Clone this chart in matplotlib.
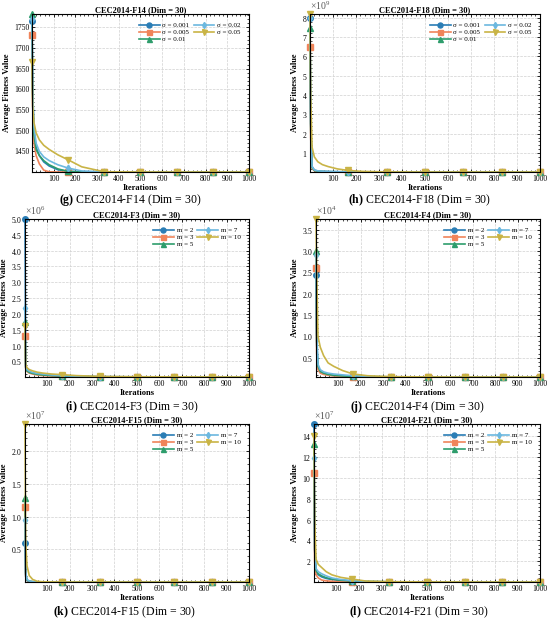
import numpy as np
import matplotlib
matplotlib.use("Agg")
import matplotlib.pyplot as plt
from matplotlib.ticker import ScalarFormatter, AutoMinorLocator, MultipleLocator

plt.rcParams['font.family'] = ['Liberation Serif', 'DejaVu Serif']
plt.rcParams['mathtext.fontset'] = 'custom'
plt.rcParams['mathtext.rm'] = 'Liberation Serif'
plt.rcParams['mathtext.bf'] = 'Liberation Serif:bold'

# iteration points (markers sit at 1, 167, 334, 500, 667, 834, 1000)
iters = [1, 4, 10, 20, 35, 55, 80, 120, 167, 230, 334, 500, 667, 834, 1000]
mark_iters = [1, 167, 334, 500, 667, 834, 1000]

colors = ['#2a7db5', '#f0845a', '#2e9d6c', '#6cb8df', '#c9b446']
markers = ['o', 's', '^', 'd', 'v']

sigma_labels = ['σ = 0.001', 'σ = 0.005', 'σ = 0.01', 'σ = 0.02', 'σ = 0.05']
m_labels = ['m = 2', 'm = 3', 'm = 5', 'm = 7', 'm = 10']

# (g) CEC2014-F14
f14_a = [1765, 1600, 1500, 1460, 1440, 1425, 1415, 1406, 1402, 1400.8, 1400.5, 1400.5, 1400.5, 1400.5, 1400.5]
f14_b = [1732, 1560, 1470, 1440, 1420, 1405, 1401, 1400.6, 1400.5, 1400.5, 1400.5, 1400.5, 1400.5, 1400.5, 1400.5]
f14_c = [1782, 1590, 1490, 1455, 1440, 1428, 1418, 1408, 1402, 1400.8, 1400.5, 1400.5, 1400.5, 1400.5, 1400.5]
f14_d = [1770, 1600, 1510, 1470, 1450, 1437, 1428, 1418, 1410, 1403, 1401, 1400.6, 1400.5, 1400.5, 1400.5]
f14_e = [1665, 1560, 1520, 1495, 1478, 1465, 1455, 1442, 1430, 1413, 1401, 1400.6, 1400.5, 1400.5, 1400.5]

# (h) CEC2014-F18, x1e9
f18_a = [8.0, 2.5, 0.3, 0.12, 0.07, 0.05, 0.04, 0.03, 0.025, 0.02, 0.02, 0.02, 0.02, 0.02, 0.02]
f18_b = [6.5, 1.8, 0.2, 0.08, 0.05, 0.04, 0.03, 0.025, 0.02, 0.02, 0.02, 0.02, 0.02, 0.02, 0.02]
f18_c = [7.5, 2.2, 0.25, 0.1, 0.06, 0.045, 0.035, 0.03, 0.025, 0.02, 0.02, 0.02, 0.02, 0.02, 0.02]
f18_d = [8.0, 2.6, 0.3, 0.12, 0.08, 0.06, 0.05, 0.04, 0.03, 0.022, 0.02, 0.02, 0.02, 0.02, 0.02]
f18_e = [8.2, 4.0, 1.3, 0.8, 0.55, 0.4, 0.3, 0.18, 0.1, 0.05, 0.025, 0.02, 0.02, 0.02, 0.02]

# (i) CEC2014-F3, x1e6
f3_a = [5.0, 0.35, 0.22, 0.17, 0.13, 0.1, 0.08, 0.06, 0.04, 0.025, 0.015, 0.01, 0.008, 0.007, 0.006]
f3_b = [1.3, 0.28, 0.18, 0.13, 0.1, 0.07, 0.05, 0.035, 0.025, 0.015, 0.01, 0.008, 0.007, 0.006, 0.006]
f3_c = [1.75, 0.3, 0.2, 0.15, 0.12, 0.09, 0.07, 0.05, 0.035, 0.02, 0.012, 0.009, 0.008, 0.007, 0.006]
f3_d = [2.2, 0.33, 0.24, 0.19, 0.15, 0.12, 0.1, 0.07, 0.05, 0.03, 0.018, 0.012, 0.009, 0.008, 0.007]
f3_e = [1.62, 0.4, 0.3, 0.24, 0.2, 0.16, 0.13, 0.1, 0.08, 0.05, 0.025, 0.014, 0.01, 0.008, 0.007]

# (j) CEC2014-F4, x1e4
f4_a = [2.45, 0.8, 0.28, 0.17, 0.13, 0.1, 0.085, 0.07, 0.06, 0.055, 0.052, 0.05, 0.05, 0.05, 0.05]
f4_b = [2.6, 0.6, 0.22, 0.14, 0.11, 0.09, 0.075, 0.065, 0.058, 0.053, 0.051, 0.05, 0.05, 0.05, 0.05]
f4_c = [3.0, 0.9, 0.3, 0.18, 0.14, 0.11, 0.09, 0.075, 0.063, 0.056, 0.052, 0.05, 0.05, 0.05, 0.05]
f4_d = [2.9, 1.1, 0.35, 0.22, 0.17, 0.14, 0.12, 0.1, 0.08, 0.065, 0.055, 0.051, 0.05, 0.05, 0.05]
f4_e = [3.75, 2.5, 1.0, 0.75, 0.55, 0.38, 0.3, 0.2, 0.12, 0.08, 0.058, 0.052, 0.05, 0.05, 0.05]

# (k) CEC2014-F15, x1e7
f15_a = [0.6, 0.08, 0.02, 0.008, 0.004, 0.002, 0.001, 0.001, 0.0005, 0.0005, 0.0005, 0.0005, 0.0005, 0.0005, 0.0005]
f15_b = [1.15, 0.1, 0.025, 0.01, 0.005, 0.002, 0.001, 0.001, 0.0005, 0.0005, 0.0005, 0.0005, 0.0005, 0.0005, 0.0005]
f15_c = [1.28, 0.12, 0.03, 0.012, 0.005, 0.002, 0.001, 0.001, 0.0005, 0.0005, 0.0005, 0.0005, 0.0005, 0.0005, 0.0005]
f15_d = [0.95, 0.15, 0.04, 0.015, 0.006, 0.003, 0.0015, 0.001, 0.0005, 0.0005, 0.0005, 0.0005, 0.0005, 0.0005, 0.0005]
f15_e = [2.42, 0.6, 0.25, 0.1, 0.04, 0.012, 0.004, 0.002, 0.001, 0.0005, 0.0005, 0.0005, 0.0005, 0.0005, 0.0005]

# (l) CEC2014-F21, x1e7
f21_a = [15.2, 3.0, 1.0, 0.7, 0.5, 0.35, 0.25, 0.15, 0.08, 0.04, 0.02, 0.015, 0.012, 0.01, 0.01]
f21_b = [10.5, 2.0, 0.7, 0.4, 0.2, 0.12, 0.08, 0.05, 0.03, 0.02, 0.015, 0.012, 0.01, 0.01, 0.01]
f21_c = [13.3, 3.2, 1.1, 0.8, 0.6, 0.42, 0.3, 0.18, 0.1, 0.05, 0.025, 0.015, 0.012, 0.01, 0.01]
f21_d = [11.9, 4.0, 1.3, 1.0, 0.8, 0.6, 0.4, 0.25, 0.15, 0.07, 0.03, 0.018, 0.013, 0.01, 0.01]
f21_e = [14.0, 6.0, 2.2, 1.7, 1.4, 1.0, 0.7, 0.45, 0.3, 0.1, 0.04, 0.02, 0.014, 0.011, 0.01]

# title, caption tag, series, y scale exponent, legend labels, y tick step
panels = [
    ('CEC2014-F14 (Dim = 30)', 'g', [f14_a, f14_b, f14_c, f14_d, f14_e], 0, sigma_labels, 50),
    ('CEC2014-F18 (Dim = 30)', 'h', [f18_a, f18_b, f18_c, f18_d, f18_e], 9, sigma_labels, 1),
    ('CEC2014-F3 (Dim = 30)', 'i', [f3_a, f3_b, f3_c, f3_d, f3_e], 6, m_labels, 0.5),
    ('CEC2014-F4 (Dim = 30)', 'j', [f4_a, f4_b, f4_c, f4_d, f4_e], 4, m_labels, 0.5),
    ('CEC2014-F15 (Dim = 30)', 'k', [f15_a, f15_b, f15_c, f15_d, f15_e], 7, m_labels, 0.5),
    ('CEC2014-F21 (Dim = 30)', 'l', [f21_a, f21_b, f21_c, f21_d, f21_e], 7, m_labels, 2),
]

# axes boxes in pixels: left, right, top, bottom
W, H = 550, 621
boxes = [(32, 249, 14, 172), (310, 540, 14, 172),
         (25, 249, 219, 377), (316, 540, 219, 377),
         (25, 249, 424, 582), (314, 540, 424, 582)]
# caption centre, pixels
captions_xy = [(130, 200), (420, 200), (132, 407), (417, 407), (125, 612), (419, 612)]

fig = plt.figure(figsize=(W / 100, H / 100), dpi=100)

it = np.array(iters)
mark_idx = [iters.index(v) for v in mark_iters]

for (title, tag, series, p, labels, step), (l, r, t, b), (cx, cy) in zip(panels, boxes, captions_xy):
    ax = fig.add_axes((l / W, 1 - b / H, (r - l) / W, (b - t) / H))
    scale = 10.0 ** p
    allv = []
    for vals, c, mk, lab in zip(series, colors, markers, labels):
        y = np.array(vals) * scale
        allv.extend(y)
        ax.plot(it, y, color=c, lw=1.2, marker=mk, markersize=4 if mk != 'd' else 3.5,
                markevery=mark_idx, label=lab, clip_on=False)
    ax.set_xlim(1, 1000)
    ax.set_ylim(min(allv), max(allv))
    ax.set_xticks(range(100, 1001, 100))
    ax.yaxis.set_major_locator(MultipleLocator(step * scale))
    if p:
        fmt = ScalarFormatter(useMathText=True)
        fmt.set_powerlimits((p, p))
        ax.yaxis.set_major_formatter(fmt)
        ax.yaxis.get_offset_text().set_fontsize(7)
        ax.yaxis.get_offset_text().set_color('#555555')
    ax.xaxis.set_minor_locator(AutoMinorLocator(5))
    ax.yaxis.set_minor_locator(AutoMinorLocator(5))
    ax.tick_params(which='both', direction='in', top=True, right=True, labelsize=5.5, pad=2)
    ax.tick_params(which='major', length=2.5, width=0.6)
    ax.tick_params(which='minor', length=1.3, width=0.5)
    ax.grid(True, which='major', ls='--', lw=0.5, color='#d0d0d0')
    for s in ax.spines.values():
        s.set_linewidth(0.8)
    ax.set_title(title, fontsize=6, fontweight='bold', pad=1.5)
    ax.set_xlabel('Iterations', fontsize=6, fontweight='bold', labelpad=1)
    ax.set_ylabel('Average Fitness Value', fontsize=6, fontweight='bold', labelpad=2)
    ax.legend(ncol=2, loc='upper right', frameon=False, fontsize=5, handlelength=3,
              columnspacing=0.6, handletextpad=0.4, labelspacing=0.15, borderaxespad=0.8,
              markerscale=0.9)
    fig.text(cx / W, 1 - cy / H, r'$\mathbf{(' + tag + ')}$ ' + title,
             fontsize=8.5, ha='center', va='center')

fig.savefig('out.png', dpi=100)
